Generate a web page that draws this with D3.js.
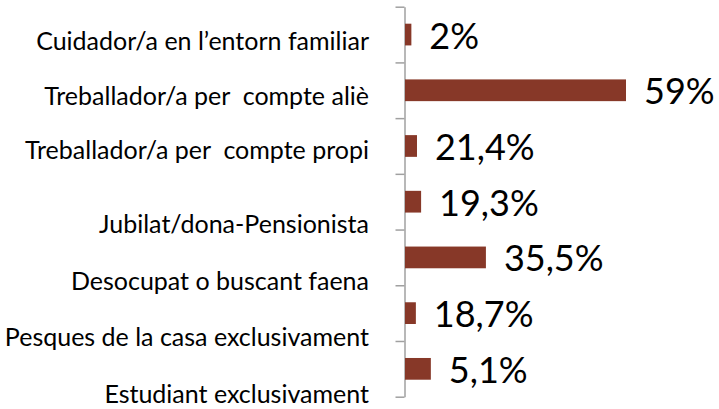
<!DOCTYPE html>
<html>
<head>
<meta charset="utf-8">
<script src="https://cdn.jsdelivr.net/npm/d3@7"></script>
<style>
	body { margin: 0; background: #fff; }
	svg { display: block; }
	text { white-space: pre; }
</style>
</head>
<body>
<div id="chart"></div>
<script>
// categories, top to bottom
var categories = [
	"Cuidador/a en l\u2019entorn familiar",
	"Treballador/a per  compte ali\u00e8",
	"Treballador/a per  compte propi",
	"Jubilat/dona-Pensionista",
	"Desocupat o buscant faena",
	"Pesques de la casa exclusivament",
	"Estudiant exclusivament"
];
// bar lengths as drawn (same units as the 59% bar)
var barValues = [1.7, 59, 3.2, 4.3, 21.6, 2.9, 6.9];
// value labels as printed
var valueLabels = ["2%", "59%", "21,4%", "19,3%", "35,5%", "18,7%", "5,1%"];

function init(){
	var w = 719;
	var h = 409;
	var barColor = "#873828";
	var axisColor = "#a0a0a0";

	var svg = d3.select("#chart")
		.append("svg")
		.attr("width", w)
		.attr("height", h);

	var xScale = d3.scaleLinear()
		.domain([0, 59])
		.range([405, 626]);

	// band for each category between the tick marks
	var yScale = d3.scaleBand()
		.domain(d3.range(categories.length))
		.range([6.7, 396.7])
		.paddingInner(0.61)
		.paddingOuter(0.305);

	// tick marks sit on the band edges
	var tickScale = d3.scaleLinear()
		.domain([0, categories.length])
		.range([6.7, 396.7]);

	var axis = svg.append("g")
		.attr("transform", "translate(404.5,0)")
		.call(d3.axisLeft(tickScale).ticks(categories.length).tickSize(9).tickSizeOuter(0).tickFormat(""));
	axis.selectAll("path, line")
		.attr("stroke", axisColor)
		.attr("stroke-width", 1.5);

	svg.selectAll("rect.bar")
		.data(barValues)
		.enter()
		.append("rect")
		.attr("class", "bar")
		.attr("fill", barColor)
		.attr("x", xScale(0))
		.attr("y", function(d, i){ return yScale(i); })
		.attr("width", function(d){ return xScale(d) - xScale(0); })
		.attr("height", yScale.bandwidth());

	svg.selectAll("text.val")
		.data(barValues)
		.enter()
		.append("text")
		.attr("class", "val")
		.text(function(d, i){ return valueLabels[i]; })
		.attr("font-family", "Lato, sans-serif")
		.attr("font-size", "36px")
		.attr("fill", "#000")
		.attr("x", function(d){ return xScale(d) + 18; })
		.attr("y", function(d, i){ return yScale(i) + yScale.bandwidth() / 2 + 14; });

	// category labels drift below their bands further down the chart
	var labelY = d3.scaleLinear()
		.domain([0, 2, 3, 6])
		.range([50, 159, 233, 403]);

	svg.selectAll("text.cat")
		.data(categories)
		.enter()
		.append("text")
		.attr("class", "cat")
		.text(function(d){ return d; })
		.attr("font-family", "Lato, sans-serif")
		.attr("font-size", "25px")
		.attr("fill", "#000")
		.attr("text-anchor", "end")
		.attr("x", 369)
		.attr("y", function(d, i){ return labelY(i); });
}
window.onload = init;
</script>
</body>
</html>
